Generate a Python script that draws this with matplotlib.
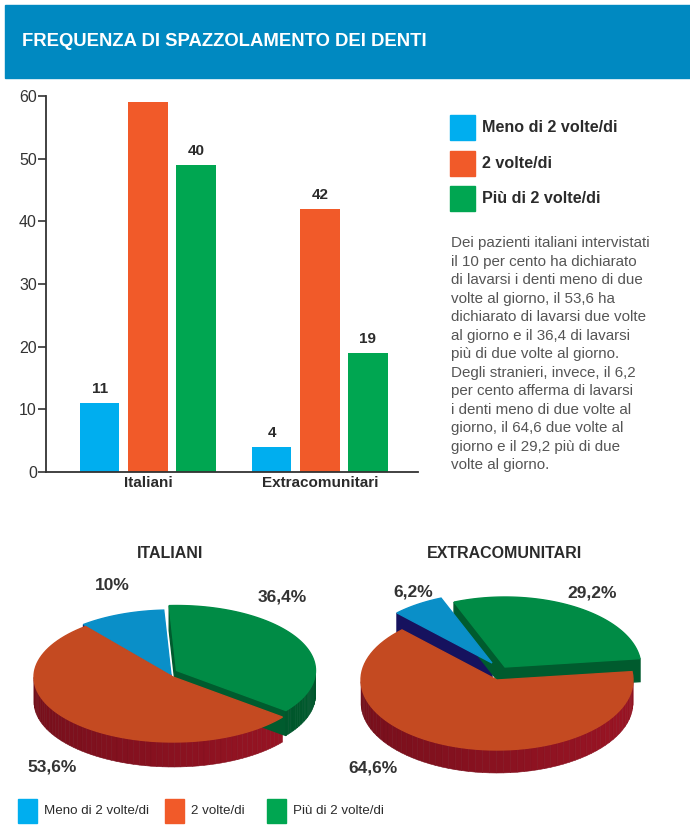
import numpy as np
import matplotlib
matplotlib.use("Agg")
import matplotlib.pyplot as plt
from matplotlib.patches import Polygon, Rectangle
from matplotlib.colors import to_rgb

plt.rcParams['font.family'] = ['Liberation Sans', 'DejaVu Sans']

W, H = 690, 840

title = "FREQUENZA DI SPAZZOLAMENTO DEI DENTI"
groups = ["Italiani", "Extracomunitari"]
series = ["Meno di 2 volte/di", "2 volte/di", "Più di 2 volte/di"]
bar_italiani = [11, 59, 49]
bar_extra = [4, 42, 19]
label_italiani = ["11", "", "40"]
label_extra = ["4", "42", "19"]
yticks = [0, 10, 20, 30, 40, 50, 60]

pie_titles = ["ITALIANI", "EXTRACOMUNITARI"]
pie_italiani = [10, 53.6, 36.4]
pie_extra = [6.2, 64.6, 29.2]
pie_lab_italiani = ["10%", "53,6%", "36,4%"]
pie_lab_extra = ["6,2%", "64,6%", "29,2%"]

note = ("Dei pazienti italiani intervistati\n"
        "il 10 per cento ha dichiarato\n"
        "di lavarsi i denti meno di due\n"
        "volte al giorno, il 53,6 ha\n"
        "dichiarato di lavarsi due volte\n"
        "al giorno e il 36,4 di lavarsi\n"
        "più di due volte al giorno.\n"
        "Degli stranieri, invece, il 6,2\n"
        "per cento afferma di lavarsi\n"
        "i denti meno di due volte al\n"
        "giorno, il 64,6 due volte al\n"
        "giorno e il 29,2 più di due\n"
        "volte al giorno.")

bar_colors = ["#00AEEF", "#F15A29", "#00A651"]
top_colors = ["#0A8FC8", "#C44A21", "#008B45"]
side_colors = ["#16125E", "#9A1424", "#005B2E"]
txt = "#2b2b2b"


def box(x0, y0, x1, y1):
    # pixel box (top-left origin) -> figure fraction
    return [x0 / W, 1 - y1 / H, (x1 - x0) / W, (y1 - y0) / H]


def shade(c, k):
    r, g, b = to_rgb(c)
    return (r * k, g * k, b * k)


fig = plt.figure(figsize=(W / 100, H / 100), dpi=100)

# banner
fig.patches.append(Rectangle((5 / W, 1 - 78 / H), 685 / W, 73 / H,
                             transform=fig.transFigure, color="#0089C1"))
fig.text(22 / W, 1 - 42 / H, title, color="white", fontsize=13.3,
         fontweight="bold", va="center")

# bar chart
ax = fig.add_axes(box(46, 96, 418, 472))
x = np.arange(len(groups))
offs = [-0.281, 0, 0.279]
for i, s in enumerate(series):
    vals = [bar_italiani[i], bar_extra[i]]
    labs = [label_italiani[i], label_extra[i]]
    bars = ax.bar(x + offs[i], vals, 0.23, color=bar_colors[i])
    for b, lab in zip(bars, labs):
        ax.annotate(lab, (b.get_x() + b.get_width() / 2, b.get_height()),
                    xytext=(0, 5), textcoords="offset points", ha="center",
                    va="bottom", fontsize=11, fontweight="bold", color=txt)
ax.set_xlim(-0.593, 1.57)
ax.set_ylim(0, 60)
ax.set_yticks(yticks)
ax.set_xticks(x)
ax.set_xticklabels(groups, fontsize=11, fontweight="bold", color=txt)
for sp in ["top", "right"]:
    ax.spines[sp].set_visible(False)
for sp in ["left", "bottom"]:
    ax.spines[sp].set_color("#333333")
    ax.spines[sp].set_linewidth(1.3)
ax.tick_params(axis="y", direction="out", length=6, width=1.2,
               labelsize=11.5, colors="#333333", pad=0.5)
ax.tick_params(axis="x", length=0, pad=3)

# right legend + note
for i, s in enumerate(series):
    y0 = 115 + i * 35.5
    fig.patches.append(Rectangle((450 / W, 1 - (y0 + 25) / H), 25 / W, 25 / H,
                                 transform=fig.transFigure, color=bar_colors[i]))
    fig.text(482 / W, 1 - (y0 + 12.5) / H, s, fontsize=11.6, fontweight="bold",
             color=txt, va="center")
fig.text(451 / W, 1 - 236 / H, note, fontsize=10.9, color="#555555",
         va="top", linespacing=1.41)


def pie3d(ax, values, start, shifts, r, ry, d):
    edges = start + 360 * np.concatenate([[0], np.cumsum(values)]) / sum(values)
    tops = []
    for i in range(len(values)):
        t1, t2 = edges[i], edges[i + 1]
        ox, oy = shifts[i]
        t = np.radians(np.linspace(t1, t2, 80))
        px = ox + r * np.cos(t)
        py = oy + ry * np.sin(t)
        # radial faces
        for ta, vis in [(t1, np.cos(np.radians(t1)) > 0),
                        (t2, np.cos(np.radians(t2)) < 0)]:
            if vis:
                ex = ox + r * np.cos(np.radians(ta))
                ey = oy + ry * np.sin(np.radians(ta))
                ax.add_patch(Polygon([(ox, oy), (ex, ey), (ex, ey - d), (ox, oy - d)],
                                     closed=True, color=side_colors[i], zorder=1))
        # outer side, front part only
        for j in range(len(t) - 1):
            tm = (t[j] + t[j + 1]) / 2
            if np.sin(tm) < 0:
                k = 0.78 + 0.22 * (1 + np.cos(tm)) / 2
                ax.add_patch(Polygon([(px[j], py[j]), (px[j + 1], py[j + 1]),
                                      (px[j + 1], py[j + 1] - d), (px[j], py[j] - d)],
                                     closed=True, facecolor=shade(side_colors[i], k),
                                     edgecolor=shade(side_colors[i], k * 0.93),
                                     lw=0.4, zorder=1))
        tops.append(Polygon(np.vstack([[ox, oy], np.column_stack([px, py])]),
                            closed=True, color=top_colors[i], zorder=2))
    for p in tops:
        ax.add_patch(p)


pies = [
    (pie_italiani, pie_lab_italiani, 93, [(-2, 2), (0, 0), (3.5, 6.5)], (173, 677), 139, 65, 25,
     [(112, 585), (52, 767), (282, 597)], 170),
    (pie_extra, pie_lab_extra, 112, [(-5, 17), (0, 0), (8, 13)], (497, 680), 136, 70, 23,
     [(413, 592), (373, 768), (592, 593)], 505),
]
for k, (vals, labs, start, shifts, (cx, cy), r, ry, d, lpos, tx) in enumerate(pies):
    pax = fig.add_axes(box(cx - 172, cy - 130, cx + 172, cy + 130))
    pax.set_xlim(-172, 172)
    pax.set_ylim(-130, 130)
    pax.axis("off")
    pie3d(pax, vals, start, shifts, r, ry, d)
    for lab, (lx, ly) in zip(labs, lpos):
        fig.text(lx / W, 1 - ly / H, lab, fontsize=12.5, fontweight="bold",
                 color="#333333", ha="center", va="center")
    fig.text(tx / W, 1 - 553 / H, pie_titles[k], fontsize=11.5, fontweight="bold",
             color=txt, ha="center", va="center")

# bottom legend
for i, s in enumerate(series):
    x0 = [18, 165, 267][i]
    fig.patches.append(Rectangle((x0 / W, 1 - 823 / H), 19 / W, 24 / H,
                                 transform=fig.transFigure, color=bar_colors[i]))
    fig.text((x0 + 26) / W, 1 - 811 / H, s, fontsize=9.6, color=txt, va="center")

fig.savefig("out.png", dpi=100)
